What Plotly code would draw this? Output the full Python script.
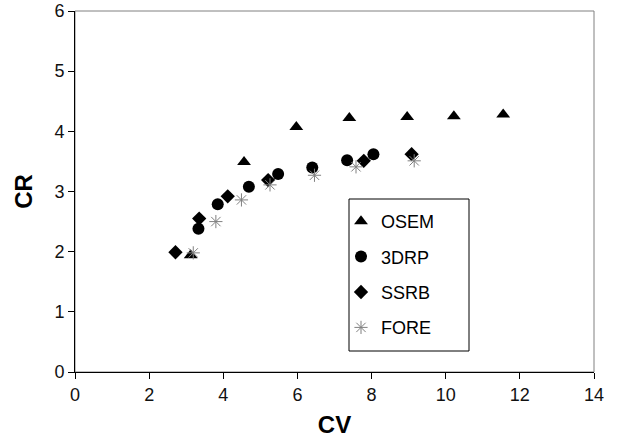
import plotly.graph_objects as go

osem_cv = [3.12, 4.56, 5.97, 7.40, 8.96, 10.22, 11.55]
osem_cr = [1.94, 3.49, 4.07, 4.22, 4.24, 4.25, 4.28]

drp_cv = [3.33, 3.85, 4.69, 5.48, 6.40, 7.34, 8.05]
drp_cr = [2.38, 2.79, 3.08, 3.29, 3.40, 3.52, 3.62]

ssrb_cv = [2.71, 3.35, 4.12, 5.21, 7.79, 9.08]
ssrb_cr = [1.99, 2.55, 2.92, 3.19, 3.51, 3.62]

fore_cv = [3.19, 3.80, 4.49, 5.26, 6.46, 7.58, 9.15]
fore_cr = [1.98, 2.50, 2.86, 3.11, 3.27, 3.41, 3.51]

x_ticks = [0, 2, 4, 6, 8, 10, 12, 14]
y_ticks = [0, 1, 2, 3, 4, 5, 6]

fig = go.Figure()
fig.add_trace(go.Scatter(x=osem_cv, y=osem_cr, mode="markers", name="OSEM", legendgroup="a",
                         marker=dict(symbol="triangle-up", size=12, color="black")))
fig.add_trace(go.Scatter(x=drp_cv, y=drp_cr, mode="markers", name="3DRP", legendgroup="b",
                         marker=dict(symbol="circle", size=12, color="black")))
fig.add_trace(go.Scatter(x=ssrb_cv, y=ssrb_cr, mode="markers", name="SSRB", legendgroup="c",
                         marker=dict(symbol="diamond", size=11, color="black")))
fig.add_trace(go.Scatter(x=fore_cv, y=fore_cr, mode="markers", name="FORE", legendgroup="d",
                         marker=dict(symbol="asterisk-open", size=11, color="#808080",
                                     line=dict(color="#808080", width=1))))

axis_common = dict(showgrid=False, zeroline=False, showline=True, linecolor="black", linewidth=1,
                   ticks="outside", ticklen=6, tickcolor="black", automargin=False,
                   tickfont=dict(family="Arial, Liberation Sans", size=18, color="#111"))

L, R, T, B = 75, 25, 11, 71
W, H = 619, 443
pw, ph = W - L - R, H - T - B

fig.update_layout(
    width=W, height=H,
    margin=dict(l=L, r=R, t=T, b=B),
    plot_bgcolor="white", paper_bgcolor="white",
    font=dict(family="Arial, Liberation Sans", color="black"),
    xaxis=dict(range=[0, 14], tickvals=x_ticks,
               title=dict(text="<b>CV</b>", font=dict(size=24), standoff=12), **axis_common),
    yaxis=dict(range=[0, 6], tickvals=y_ticks,
               title=dict(text="<b>CR</b>", font=dict(size=24), standoff=14), **axis_common),
    legend=dict(x=(341 - L) / pw, y=(H - B - 203) / ph, xanchor="left", yanchor="top",
                borderwidth=0, bgcolor="rgba(0,0,0,0)",
                font=dict(size=18, family="Arial, Liberation Sans"),
                tracegroupgap=9, itemwidth=30),
    shapes=[
        dict(type="rect", xref="paper", yref="paper", x0=0, y0=0, x1=1, y1=1,
             line=dict(color="#808080", width=1), layer="below"),
        dict(type="rect", xref="paper", yref="paper",
             x0=(349 - L) / pw, x1=(469 - L) / pw,
             y0=(H - B - 351) / ph, y1=(H - B - 199) / ph,
             line=dict(color="black", width=1), fillcolor="white", layer="above"),
    ],
)
fig.write_html("out.html", config={"displayModeBar": False},
               post_script="document.body.style.margin='0';")
